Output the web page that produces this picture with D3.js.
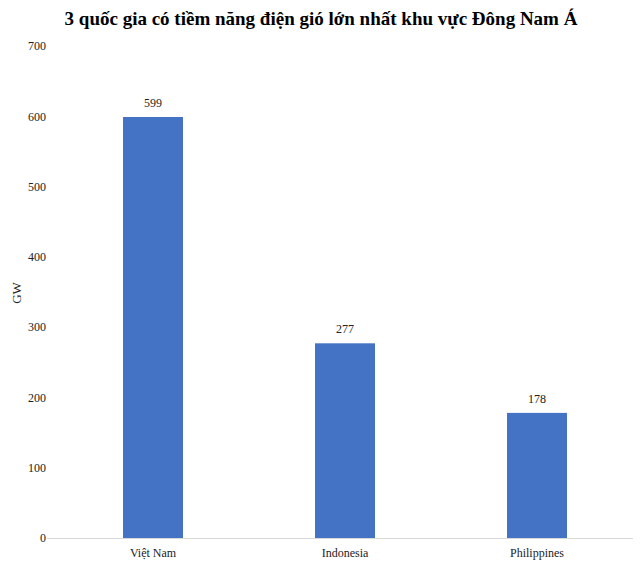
<!DOCTYPE html>
<html>
<head>
<meta charset="utf-8">
<script src="https://cdn.jsdelivr.net/npm/d3@7"></script>
<style>
  body { margin: 0; background: #fff; }
  svg text { font-family: "Liberation Serif", "Times New Roman", serif !important; }
</style>
</head>
<body>
<svg id="chart" width="640" height="566"></svg>
<script>
var countries = ['Việt Nam', 'Indonesia', 'Philippines'];
var potentialGW = [599, 277, 178];
var yTicks = [0, 100, 200, 300, 400, 500, 600, 700];

var svg = d3.select('#chart');
var margin = {top: 46, right: 7, bottom: 28, left: 57};
var width = 640 - margin.left - margin.right;
var height = 566 - margin.top - margin.bottom;

var x = d3.scaleBand()
  .domain(countries)
  .range([margin.left, margin.left + width])
  .paddingInner(0.6875)
  .paddingOuter(0.34375);

var y = d3.scaleLinear()
  .domain([0, 700])
  .range([margin.top + height, margin.top]);

// title
svg.append('text')
  .attr('x', 321)
  .attr('y', 25)
  .attr('text-anchor', 'middle')
  .style('font-size', '19px')
  .style('font-weight', 'bold')
  .text('3 quốc gia có tiềm năng điện gió lớn nhất khu vực Đông Nam Á');

// y axis labels (no line)
var yAxis = svg.append('g')
  .attr('transform', 'translate(' + (margin.left - 11) + ',0)')
  .attr('font-family', 'Liberation Serif')
  .call(d3.axisLeft(y).tickValues(yTicks).tickSize(0).tickPadding(0));
yAxis.select('.domain').remove();
yAxis.selectAll('text')
  .attr('font-size', 12)
  .attr('fill', '#222');

svg.append('text')
  .attr('transform', 'translate(21,' + 293 + ') rotate(-90)')
  .attr('text-anchor', 'middle')
  .style('font-size', '13px')
  .attr('fill', '#222')
  .text('GW');

// bars
svg.selectAll('rect.bar')
  .data(countries)
  .enter().append('rect')
  .attr('class', 'bar')
  .attr('x', function(d) { return x(d); })
  .attr('width', x.bandwidth())
  .attr('y', function(d, i) { return y(potentialGW[i]); })
  .attr('height', function(d, i) { return y(0) - y(potentialGW[i]); })
  .attr('fill', '#4472C4');

// value labels
svg.selectAll('text.val')
  .data(countries)
  .enter().append('text')
  .attr('class', 'val')
  .attr('x', function(d) { return x(d) + x.bandwidth() / 2; })
  .attr('y', function(d, i) { return y(potentialGW[i]) - 10; })
  .attr('text-anchor', 'middle')
  .style('font-size', '12px')
  .attr('fill', '#222')
  .text(function(d, i) { return potentialGW[i]; });

// x axis
var xAxis = svg.append('g')
  .attr('transform', 'translate(0,' + y(0) + ')')
  .attr('font-family', 'Liberation Serif')
  .call(d3.axisBottom(x).tickSize(0).tickPadding(10).tickSizeOuter(0));
xAxis.select('.domain')
  .attr('stroke', '#d9d9d9')
  .attr('d', 'M' + (margin.left - 10) + ',0.5H' + (margin.left + width));
xAxis.selectAll('text')
  .attr('font-size', 12)
  .attr('fill', '#222');
</script>
</body>
</html>
